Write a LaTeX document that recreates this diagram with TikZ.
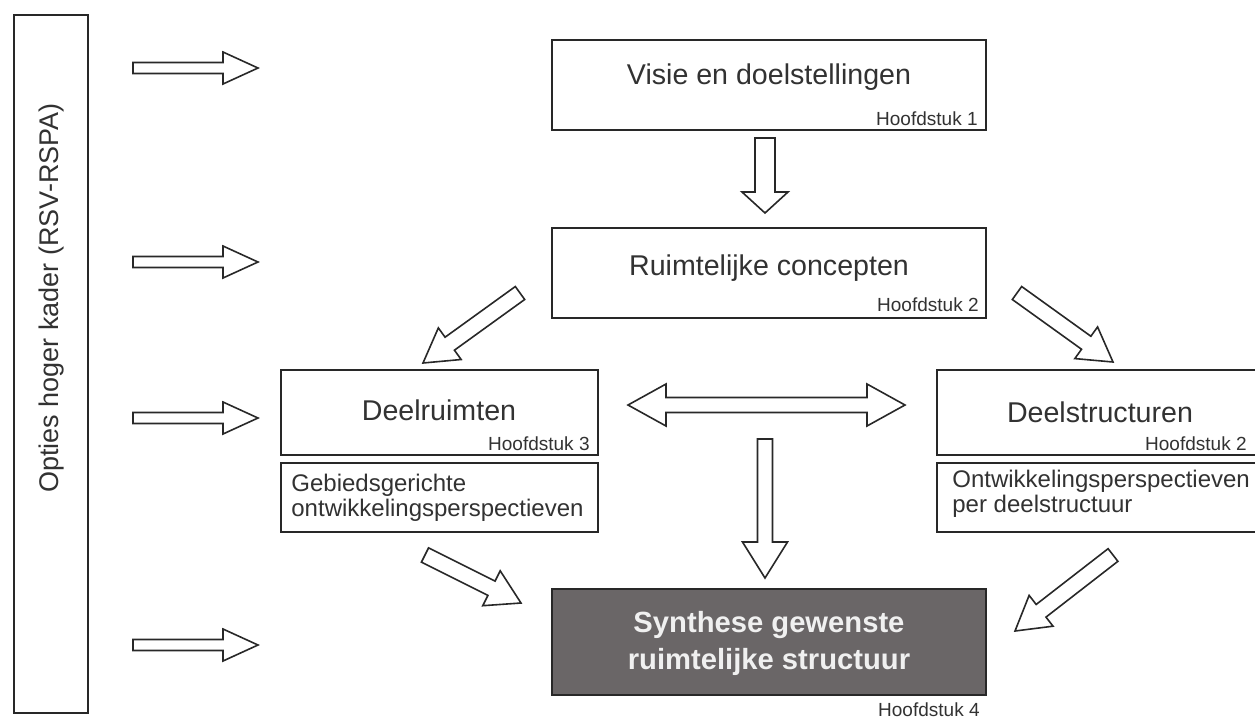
\documentclass[tikz,border=0pt]{standalone}
\usepackage{fontspec}
\setmainfont{Liberation Sans}
\usetikzlibrary{calc}
\definecolor{FrameGrey}{RGB}{40,40,40}
\definecolor{TextGrey}{RGB}{50,50,50}
\definecolor{SynthGrey}{RGB}{106,102,103}

\tikzset{
  box/.style={draw=FrameGrey, line width=1pt, fill=white, inner sep=0pt},
  title/.style={font=\fontsize{14.3}{16}\selectfont, text=TextGrey},
  sidetitle/.style={font=\fontsize{13.5}{16}\selectfont, text=TextGrey},
  chapter/.style={font=\fontsize{9.5}{11}\selectfont, text=TextGrey, anchor=east, inner sep=0pt},
  subtext/.style={font=\fontsize{12}{12.5}\selectfont, text=TextGrey, align=left, anchor=west, inner sep=0pt},
  synthtxt/.style={font=\fontsize{14.6}{18.5}\selectfont\bfseries, text=white!94!black, align=center},
  hollow/.style={draw=FrameGrey, line width=0.8pt, fill=white},
}

% hollow block arrow: from, to, shaft half width, head half width, head length
\newcommand{\blockarrow}[5]{%
  \coordinate (neck) at ($(#2)!#5!(#1)$);
  \draw[hollow] ($(#1)!#3!90:(#2)$) -- ($(neck)!#3!90:(#2)$) -- ($(neck)!#4!90:(#2)$) -- (#2)
    -- ($(neck)!#4!-90:(#2)$) -- ($(neck)!#3!-90:(#2)$) -- ($(#1)!#3!-90:(#2)$) -- cycle;
}
% same, with a head at both ends
\newcommand{\twowayarrow}[5]{%
  \coordinate (necka) at ($(#1)!#5!(#2)$);
  \coordinate (neckb) at ($(#2)!#5!(#1)$);
  \draw[hollow] (#1) -- ($(necka)!#4!90:(#2)$) -- ($(necka)!#3!90:(#2)$) -- ($(neckb)!#3!90:(#2)$)
    -- ($(neckb)!#4!90:(#2)$) -- (#2) -- ($(neckb)!#4!-90:(#2)$) -- ($(neckb)!#3!-90:(#2)$)
    -- ($(necka)!#3!-90:(#2)$) -- ($(necka)!#4!-90:(#2)$) -- cycle;
}

\begin{document}
\begin{tikzpicture}[x=0.5pt, y=-0.5pt]
    \useasboundingbox (0,0) rectangle (1255,720);
    \clip (0,0) rectangle (1255,720);

    % Frame on the left
    \node[box, minimum width=37pt, minimum height=349pt] (kader) at (51,364) {};
    \node[sidetitle, rotate=90] (kadertxt) at (52,298) {Opties hoger kader (RSV-RSPA)};

    % Arrows out of the frame
    \foreach \y [count=\i] in {68,262,418,645} {
      \coordinate (in\i) at (133,\y);
      \coordinate (out\i) at (258,\y);
      \blockarrow{in\i}{out\i}{2.75pt}{8pt}{17.5pt}
    }

    % Boxes
    \node[box, minimum width=217pt, minimum height=45pt] (visie) at (769,85) {};
    \node[box, minimum width=217pt, minimum height=45pt] (concept) at (769,273) {};
    \node[box, minimum width=158.5pt, minimum height=42.5pt] (ruimte) at (439.5,412.5) {};
    \node[box, minimum width=158.5pt, minimum height=34.5pt] (ruimtesub) at (439.5,497.5) {};
    \node[box, minimum width=163pt, minimum height=42.5pt] (struct) at (1100,412.5) {};
    \node[box, minimum width=163pt, minimum height=34.5pt] (structsub) at (1100,497.5) {};
    \node[box, fill=SynthGrey, minimum width=217pt, minimum height=53pt] (synth) at (769,642) {};

    % Labels
    \node[title] (visietxt) at (769,77) {Visie en doelstellingen};
    \node[title] (concepttxt) at (769,268) {Ruimtelijke concepten};
    \node[title] (ruimtetxt) at (439,410) {Deelruimten};
    \node[title] (structtxt) at (1100,412) {Deelstructuren};
    \node[subtext] (ruimtesubtxt) at (291,498) {Gebiedsgerichte\\ontwikkelingsperspectieven};
    \node[subtext] (structsubtxt) at (952,494) {Ontwikkelingsperspectieven\\per deelstructuur};
    \node[synthtxt] (synthtxt) at (769,643) {Synthese gewenste\\ruimtelijke structuur};

    % Chapters
    \node[chapter] (h1) at (978,119) {Hoofdstuk 1};
    \node[chapter] (h2) at (979,305) {Hoofdstuk 2};
    \node[chapter] (h3) at (590,444) {Hoofdstuk 3};
    \node[chapter] (h2b) at (1247,444) {Hoofdstuk 2};
    \node[chapter] (h4) at (980,710) {Hoofdstuk 4};

    % Arrows between the boxes
    \coordinate (v1) at (765,138);
    \coordinate (v2) at (765,213);
    \blockarrow{v1}{v2}{5pt}{11.5pt}{10.5pt}
    \coordinate (dl1) at (520,293);
    \coordinate (dl2) at (423,363);
    \blockarrow{dl1}{dl2}{4pt}{9.75pt}{16.5pt}
    \coordinate (dr1) at (1017,293);
    \coordinate (dr2) at (1113,362);
    \blockarrow{dr1}{dr2}{4pt}{9.75pt}{16.5pt}
    \coordinate (h1) at (628,405);
    \coordinate (h2) at (905,405);
    \twowayarrow{h1}{h2}{3.75pt}{10.5pt}{19pt}
    \coordinate (c1) at (765,439);
    \coordinate (c2) at (765,578);
    \blockarrow{c1}{c2}{3.75pt}{11.25pt}{18pt}
    \coordinate (ul1) at (425,555);
    \coordinate (ul2) at (521,603);
    \blockarrow{ul1}{ul2}{4pt}{9.75pt}{16.5pt}
    \coordinate (ur1) at (1113,555);
    \coordinate (ur2) at (1015,631);
    \blockarrow{ur1}{ur2}{4pt}{9.75pt}{16.5pt}
\end{tikzpicture}
\end{document}
